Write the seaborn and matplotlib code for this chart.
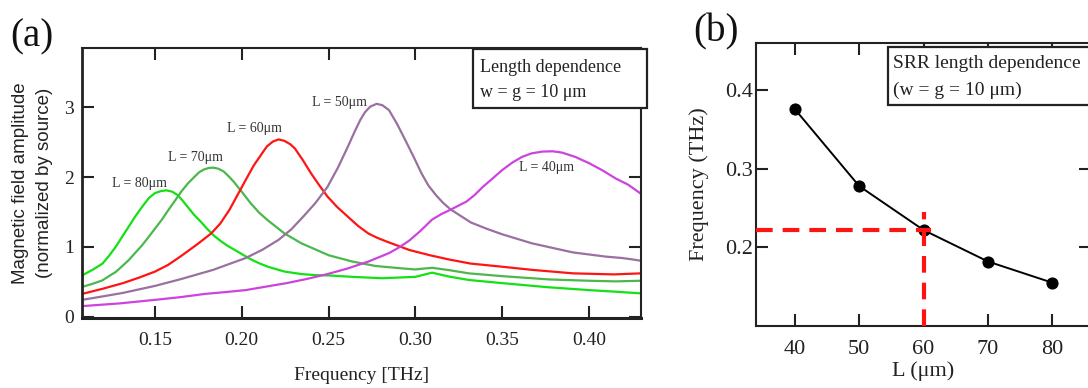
import numpy as np
import pandas as pd
import matplotlib
matplotlib.use("Agg")
import matplotlib.pyplot as plt
from matplotlib.patches import Rectangle
import seaborn as sns

# ---- panel (a): field amplitude spectra ----
f80 = [0.108, 0.114, 0.1198, 0.1235, 0.1274, 0.131, 0.1349, 0.1385, 0.1425, 0.1465,
       0.150, 0.1535, 0.1566, 0.160, 0.1632, 0.166, 0.1689, 0.1725, 0.1764, 0.180,
       0.184, 0.1875, 0.1915, 0.1991, 0.2053, 0.210, 0.215, 0.2247, 0.2344, 0.242,
       0.250, 0.2636, 0.2808, 0.300, 0.3096, 0.3192, 0.3308, 0.350, 0.3769, 0.400,
       0.4154, 0.430]
a80 = [0.59, 0.67, 0.76, 0.87, 1.00, 1.14, 1.29, 1.43, 1.57, 1.70,
       1.77, 1.80, 1.81, 1.79, 1.74, 1.66, 1.57, 1.46, 1.36, 1.26,
       1.16, 1.09, 1.02, 0.91, 0.82, 0.765, 0.715, 0.645, 0.61, 0.595,
       0.59, 0.57, 0.55, 0.57, 0.63, 0.575, 0.525, 0.48, 0.42, 0.38,
       0.357, 0.333]

f70 = [0.108, 0.114, 0.1198, 0.1235, 0.1274, 0.131, 0.1349, 0.1385, 0.1425, 0.146,
       0.150, 0.154, 0.1575, 0.1615, 0.1651, 0.169, 0.1726, 0.1755, 0.1783, 0.181,
       0.1836, 0.1865, 0.1896, 0.1925, 0.1955, 0.2003, 0.2053, 0.210, 0.215, 0.2247,
       0.2344, 0.250, 0.2636, 0.2772, 0.2928, 0.300, 0.3096, 0.3192, 0.3308, 0.350,
       0.3769, 0.400, 0.4154, 0.430]
a70 = [0.425, 0.47, 0.52, 0.58, 0.64, 0.72, 0.81, 0.91, 1.02, 1.13,
       1.26, 1.39, 1.52, 1.66, 1.79, 1.91, 2.00, 2.07, 2.11, 2.13,
       2.135, 2.12, 2.08, 2.01, 1.93, 1.78, 1.62, 1.49, 1.38, 1.19,
       1.05, 0.88, 0.79, 0.725, 0.69, 0.676, 0.70, 0.667, 0.62, 0.58,
       0.533, 0.514, 0.505, 0.514]

f60 = [0.108, 0.120, 0.1316, 0.141, 0.150, 0.1575, 0.1646, 0.174, 0.1823, 0.1875,
       0.1929, 0.1975, 0.2023, 0.207, 0.2117, 0.2145, 0.218, 0.2212, 0.2245, 0.228,
       0.2306, 0.235, 0.240, 0.245, 0.2494, 0.255, 0.2612, 0.267, 0.273, 0.278,
       0.283, 0.2965, 0.3083, 0.3201, 0.3319, 0.350, 0.3672, 0.3908, 0.4143, 0.430]
a60 = [0.325, 0.40, 0.48, 0.56, 0.645, 0.74, 0.86, 1.03, 1.19, 1.33,
       1.53, 1.74, 1.96, 2.17, 2.34, 2.44, 2.51, 2.54, 2.52, 2.47,
       2.41, 2.25, 2.05, 1.87, 1.72, 1.57, 1.43, 1.30, 1.19, 1.13,
       1.08, 0.955, 0.88, 0.815, 0.76, 0.715, 0.67, 0.62, 0.605, 0.62]

f50 = [0.108, 0.120, 0.1316, 0.150, 0.1646, 0.1835, 0.2023, 0.212, 0.2212, 0.2285,
       0.2353, 0.2425, 0.2494, 0.2555, 0.2612, 0.265, 0.2683, 0.271, 0.274, 0.2777,
       0.281, 0.2848, 0.2895, 0.2942, 0.299, 0.3036, 0.3075, 0.3119, 0.316, 0.3201,
       0.3319, 0.341, 0.350, 0.3672, 0.3908, 0.4096, 0.4191, 0.425, 0.430]
a50 = [0.24, 0.29, 0.34, 0.44, 0.535, 0.67, 0.84, 0.96, 1.10, 1.25,
       1.43, 1.63, 1.86, 2.14, 2.44, 2.65, 2.82, 2.93, 3.01, 3.05,
       3.03, 2.96, 2.76, 2.53, 2.29, 2.05, 1.88, 1.74, 1.63, 1.54,
       1.35, 1.26, 1.18, 1.05, 0.92, 0.86, 0.84, 0.82, 0.80]

f40 = [0.108, 0.130, 0.150, 0.165, 0.1787, 0.190, 0.2023, 0.214, 0.2259, 0.2375,
       0.2494, 0.261, 0.273, 0.2848, 0.2905, 0.2965, 0.303, 0.3096, 0.315, 0.3201,
       0.3295, 0.334, 0.3389, 0.3445, 0.350, 0.356, 0.3615, 0.367, 0.3731, 0.379,
       0.3846, 0.392, 0.400, 0.4075, 0.4154, 0.4226, 0.430]
a40 = [0.15, 0.19, 0.24, 0.28, 0.325, 0.35, 0.38, 0.43, 0.48, 0.54,
       0.61, 0.69, 0.79, 0.91, 0.99, 1.09, 1.23, 1.39, 1.47, 1.53,
       1.65, 1.74, 1.86, 1.98, 2.10, 2.21, 2.29, 2.34, 2.365, 2.37,
       2.35, 2.29, 2.20, 2.10, 1.98, 1.89, 1.76]

curve_names = ["L = 80μm", "L = 70μm", "L = 60μm", "L = 50μm", "L = 40μm"]
curve_colors = ["#14e014", "#4cb84c", "#ff1414", "#9a70a0", "#cc44dd"]
label_x = [0.1412, 0.1735, 0.2075, 0.256, 0.3755]
label_y = [1.91, 2.28, 2.70, 3.07, 2.13]

# ---- panel (b): resonance frequency vs SRR length ----
L_um = [40, 50, 60, 70, 80]
f_res = [0.376, 0.278, 0.222, 0.182, 0.155]

SERIF = ["Liberation Serif", "DejaVu Serif"]
SANS = ["Liberation Sans", "DejaVu Sans"]

sns.set_theme(style="ticks")
plt.rcParams["font.family"] = SERIF

long_rows = []
for name, fx, ay in zip(curve_names, [f80, f70, f60, f50, f40], [a80, a70, a60, a50, a40]):
    for x, y in zip(fx, ay):
        long_rows.append({"curve": name, "freq": x, "amp": y})
df = pd.DataFrame(long_rows)

fig = plt.figure(figsize=(10.88, 3.88), dpi=100)
ax1 = fig.add_axes([0.0754, 0.1804, 0.5138, 0.6959])
ax2 = fig.add_axes([0.6949, 0.1598, 0.3080, 0.7294])

def style_axes(ax, xpad, ypad, fs):
    ax.tick_params(axis="both", which="major", direction="in", length=8.5, width=1.5,
                   top=True, right=True, labelsize=fs, colors="#222222")
    ax.tick_params(axis="x", pad=xpad)
    ax.tick_params(axis="y", pad=ypad)
    for sp in ax.spines.values():
        sp.set_linewidth(1.5)
        sp.set_color("#222222")
        sp.set_visible(True)
    ax.grid(False)

# ---- (a) ----
sns.lineplot(data=df, x="freq", y="amp", hue="curve", hue_order=curve_names,
             palette=curve_colors, estimator=None, sort=False, linewidth=1.6,
             legend=False, ax=ax1)
ax1.set_xlim(0.108, 0.430)
ax1.set_ylim(-0.02, 3.85)
ax1.set_xticks([0.15, 0.20, 0.25, 0.30, 0.35, 0.40])
ax1.set_xticklabels(["0.15", "0.20", "0.25", "0.30", "0.35", "0.40"])
ax1.set_yticks([0, 1, 2, 3])
style_axes(ax1, 10, 6, 14)
ax1.spines["bottom"].set_linewidth(2.2)
ax1.spines["left"].set_linewidth(2.0)
ax1.set_xlabel("Frequency [THz]", fontsize=14, labelpad=13, color="#222222")
ax1.set_ylabel("Magnetic field amplitude\n(normalized by source)", fontsize=13.5,
               family=SANS, labelpad=8, color="#222222", linespacing=1.5)

for name, lx, ly in zip(curve_names, label_x, label_y):
    ax1.text(lx, ly, name, fontsize=10, ha="center", va="center", color="#333333")

ax1.add_patch(Rectangle((0.70, 0.778), 0.31, 0.217, transform=ax1.transAxes,
                        facecolor="white", edgecolor="#222222", linewidth=1.6,
                        zorder=5, clip_on=False))
ax1.text(0.712, 0.926, "Length dependence", transform=ax1.transAxes, fontsize=13,
         ha="left", va="center", zorder=6, color="#222222")
ax1.text(0.712, 0.837, "w = g = 10 μm", transform=ax1.transAxes, fontsize=13,
         ha="left", va="center", zorder=6, color="#222222")

# ---- (b) ----
sns.lineplot(x=L_um, y=f_res, color="black", marker="o", markersize=8,
             markeredgecolor="black", linewidth=1.4, ax=ax2)
ax2.set_xlim(34, 86)
ax2.set_ylim(0.10, 0.46)
ax2.set_xticks(L_um)
ax2.set_yticks([0.2, 0.3, 0.4])
ax2.set_yticklabels(["0.2", "0.3", "0.4"])
style_axes(ax2, 10, 2, 16)
ax2.set_xlabel("L (μm)", fontsize=16, labelpad=2, color="#222222")
ax2.set_ylabel("Frequency (THz)", fontsize=16, labelpad=12, color="#222222")

# red guide lines through the L = 60 um point
x0, y0 = L_um[2], f_res[2]
ax2.hlines(y0, ax2.get_xlim()[0], x0 + 1.2, colors="#ff1414", linewidth=3,
           linestyles=(0, (4, 2.4)), zorder=4)
ax2.vlines(x0, ax2.get_ylim()[0], y0 + 0.023, colors="#ff1414", linewidth=3,
           linestyles=(0, (4, 2.4)), zorder=4)

ax2.add_patch(Rectangle((0.395, 0.781), 0.62, 0.205, transform=ax2.transAxes,
                        facecolor="white", edgecolor="#222222", linewidth=1.6,
                        zorder=5, clip_on=False))
ax2.text(0.41, 0.929, "SRR length dependence", transform=ax2.transAxes, fontsize=14,
         ha="left", va="center", zorder=6, color="#222222")
ax2.text(0.41, 0.834, "(w = g = 10 μm)", transform=ax2.transAxes, fontsize=14,
         ha="left", va="center", zorder=6, color="#222222")

fig.text(0.009, 0.905, "(a)", fontsize=28, ha="left", va="center", color="#111111")
fig.text(0.637, 0.918, "(b)", fontsize=28, ha="left", va="center", color="#111111")

fig.savefig("out.png", dpi=100)
